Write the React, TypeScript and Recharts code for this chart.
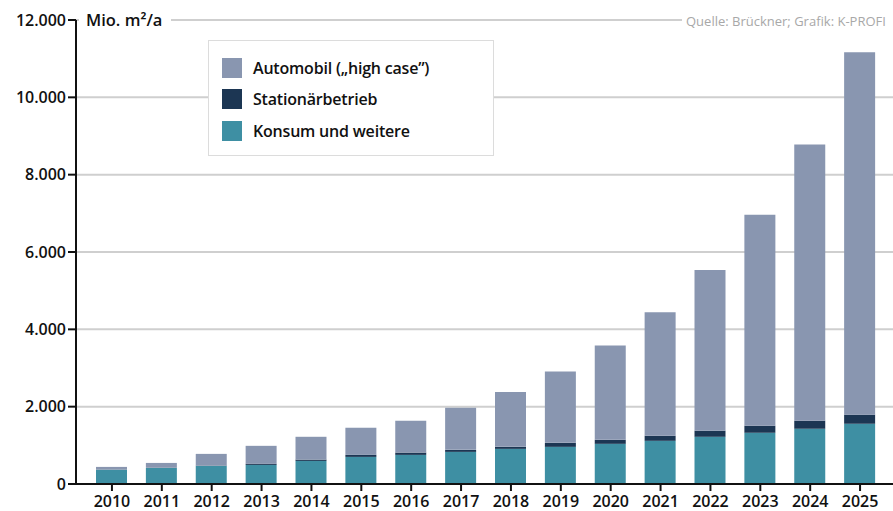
import React from "react";
import { BarChart, Bar, XAxis, YAxis, CartesianGrid } from "recharts";

const YEARS = ["2010", "2011", "2012", "2013", "2014", "2015", "2016", "2017", "2018", "2019", "2020", "2021", "2022", "2023", "2024", "2025"];
const KONSUM = [370, 416, 468, 494, 597, 701, 753, 831, 909, 961, 1039, 1117, 1221, 1325, 1429, 1558];
const STATIONAER = [5, 5, 8, 26, 34, 52, 60, 52, 52, 104, 104, 130, 156, 181, 207, 234];
const AUTOMOBIL = [67, 124, 303, 467, 590, 702, 823, 1091, 1421, 1844, 2441, 3194, 4155, 5455, 7143, 9377];
const Y_TICKS = [0, 2000, 4000, 6000, 8000, 10000, 12000];

const SERIES = [
  { key: "auto", name: "Automobil (\u201Ehigh case\u201D)", color: "#8996b0" },
  { key: "stat", name: "Stationärbetrieb", color: "#1c3653" },
  { key: "konsum", name: "Konsum und weitere", color: "#3e8fa3" },
];

const FONT = "'Open Sans', sans-serif";

const data = YEARS.map((year, i) => ({
  year,
  konsum: KONSUM[i],
  stat: STATIONAER[i],
  auto: AUTOMOBIL[i],
}));

// 12000 -> "12.000"
const fmt = (v: number) => String(v).replace(/\B(?=(\d{3})+(?!\d))/g, ".");

function LegendBox() {
  return (
    <div
      style={{
        position: "absolute",
        left: 208,
        top: 40,
        border: "1.5px solid #dcdcdc",
        background: "#fff",
        width: 286,
        height: 116,
        boxSizing: "border-box",
        padding: "11px 0 0 13px",
        fontFamily: FONT,
      }}
    >
      {SERIES.map((s) => (
        <div key={s.key} style={{ display: "flex", alignItems: "center", height: 31.5 }}>
          <div style={{ width: 20, height: 20, background: s.color, marginRight: 11 }} />
          <span style={{ fontSize: 16, fontWeight: 600, color: "#111", letterSpacing: -0.2 }}>{s.name}</span>
        </div>
      ))}
    </div>
  );
}

export default function App() {
  return (
    <div style={{ position: "relative", width: 893, height: 511, overflow: "hidden", background: "#fff" }}>
      <style>{`body{margin:0}`}</style>
      <BarChart width={893} height={511} data={data} margin={{ top: 20, right: 0, bottom: 0, left: 0 }} barSize={31}>
        <CartesianGrid vertical={false} stroke="#cfcfcf" strokeWidth={2} />
        <XAxis
          dataKey="year"
          height={27}
          padding={{ left: 11, right: 8 }}
          stroke="#111"
          strokeWidth={2}
          tickSize={7}
          tickMargin={5}
          tickLine={{ stroke: "#111", strokeWidth: 2 }}
          tick={{ fill: "#111", fontSize: 16, fontWeight: 600, fontFamily: FONT }}
          interval={0}
        />
        <YAxis
          width={76}
          domain={[0, 12000]}
          ticks={Y_TICKS}
          tickFormatter={fmt}
          stroke="#111"
          strokeWidth={2}
          tickSize={8}
          tickMargin={2}
          tickLine={{ stroke: "#111", strokeWidth: 2 }}
          tick={{ fill: "#111", fontSize: 16, fontWeight: 600, fontFamily: FONT }}
          interval={0}
        />
        <Bar dataKey="konsum" stackId="a" fill="#3e8fa3" isAnimationActive={false} />
        <Bar dataKey="stat" stackId="a" fill="#1c3653" isAnimationActive={false} />
        <Bar dataKey="auto" stackId="a" fill="#8996b0" isAnimationActive={false} />
      </BarChart>
      <LegendBox />
      <div
        style={{
          position: "absolute",
          left: 79,
          top: 8,
          height: 24,
          padding: "0 9px 0 7px",
          background: "#fff",
          fontFamily: FONT,
          fontSize: 16.5,
          fontWeight: 600,
          color: "#111",
          lineHeight: "24px",
          whiteSpace: "nowrap",
        }}
      >
        Mio. m²/a
      </div>
      <div
        style={{
          position: "absolute",
          left: 682,
          top: 12,
          height: 18,
          padding: "0 20px 0 4px",
          background: "#fff",
          fontFamily: FONT,
          fontSize: 13,
          color: "#a8a8a8",
          lineHeight: "18px",
          whiteSpace: "nowrap",
        }}
      >
        Quelle: Brückner; Grafik: K-PROFI
      </div>
    </div>
  );
}
